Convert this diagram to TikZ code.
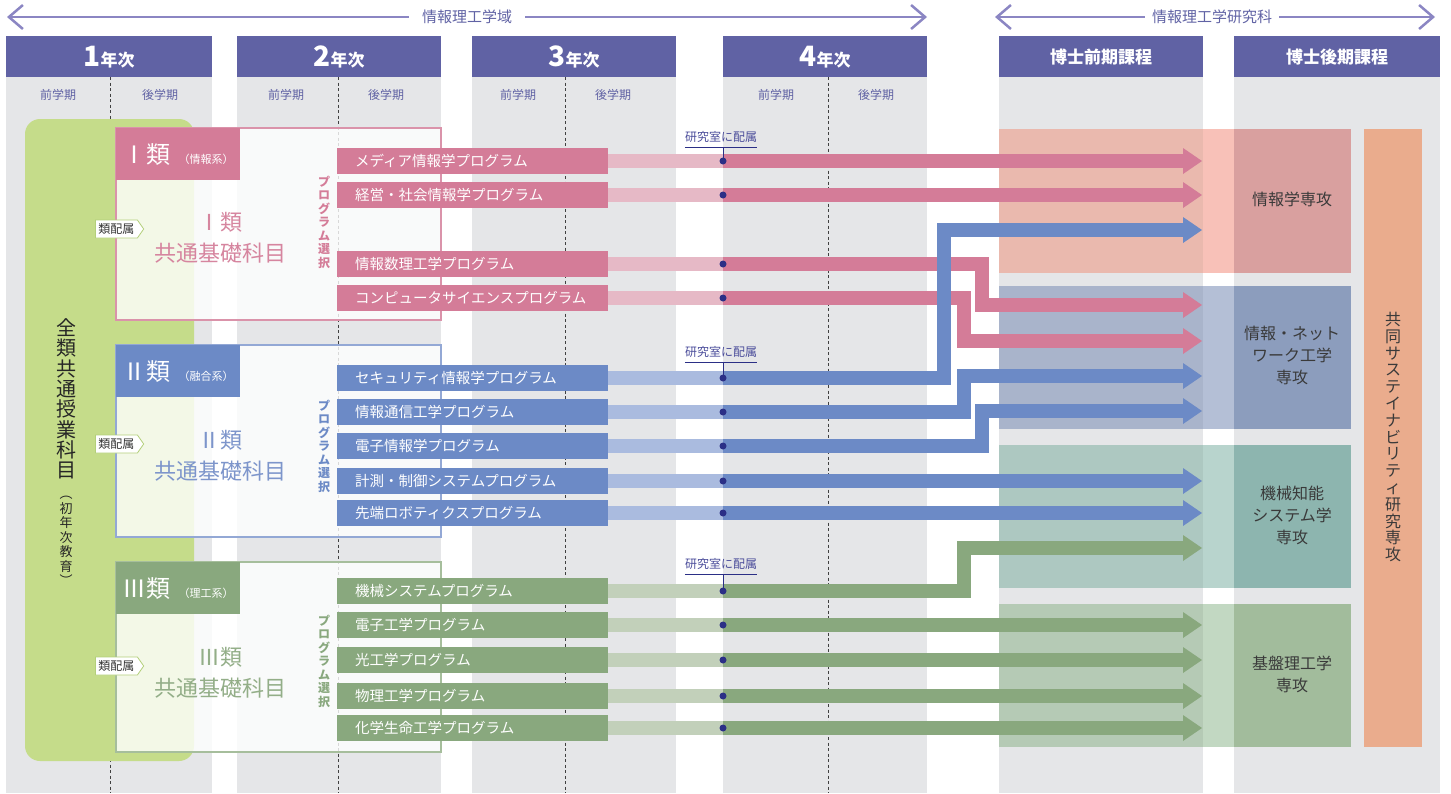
\documentclass[tikz,border=0pt]{standalone}
\usepackage{fontspec}
\setmainfont{Noto Sans CJK JP}
\usetikzlibrary{arrows.meta,shapes.symbols}
\definecolor{hdr}{HTML}{6062A4}
\definecolor{colgrey}{HTML}{E5E6E8}
\definecolor{rangeline}{HTML}{8B86C3}
\definecolor{allgreen}{HTML}{C5DC8A}
\definecolor{tagline}{HTML}{B3CF7A}
\definecolor{clsI}{HTML}{D47C98}
\definecolor{clsIlt}{HTML}{E6B9C6}
\definecolor{clsIbd}{HTML}{DA93AA}
\definecolor{clsItx}{HTML}{D6859F}
\definecolor{clsII}{HTML}{6C8AC6}
\definecolor{clsIIlt}{HTML}{AABBDF}
\definecolor{clsIIbd}{HTML}{93A8D5}
\definecolor{clsIItx}{HTML}{7D95CB}
\definecolor{clsIII}{HTML}{89A87E}
\definecolor{clsIIIlt}{HTML}{C2D0BA}
\definecolor{clsIIIbd}{HTML}{A6BE9C}
\definecolor{clsIIItx}{HTML}{93AE88}
\definecolor{labnavy}{HTML}{2B2F86}
\definecolor{labtext}{HTML}{4A4C9A}
\definecolor{majtext}{HTML}{3A3A3A}
\definecolor{sustain}{HTML}{EAAC8D}
\begin{document}
\begin{tikzpicture}[x=1pt,y=-1pt,
    prog/.style={anchor=west,text=white,font=\fontsize{14.5}{15}\selectfont,
      minimum height=26pt,inner xsep=18pt,inner ysep=0pt,text width=235pt,align=left},
    stub/.style={line width=14pt,draw=#1},
    lane/.style={line width=14pt,draw=#1,-{Triangle[length=19pt,width=26pt,line width=0pt]}},
    rng/.style={line width=2.5pt,draw=rangeline},
    rngtext/.style={text=hdr,font=\fontsize{15}{15}\selectfont,inner ysep=0pt},
    yeartext/.style={text=white,font=\bfseries\fontsize{17}{17}\selectfont},
    semtext/.style={text=hdr,font=\fontsize{12}{12}\selectfont},
    semdash/.style={black!75,line width=0.8pt,dash pattern=on 3pt off 2.5pt},
    clsbox/.style={line width=1.5pt,fill=white,fill opacity=0.8},
    clshead/.style={anchor=north west,minimum width=124pt,minimum height=52pt,
      text=white,font=\fontsize{11}{12}\selectfont},
    clsmid/.style={align=center,font=\fontsize{22}{31}\selectfont},
    tag/.style={signal,signal to=east,signal pointer angle=110,anchor=west,fill=white,
      draw=tagline,line width=0.8pt,inner xsep=3pt,inner ysep=2pt,minimum height=18pt,
      font=\fontsize{12}{12}\selectfont,text=black!80},
    tate/.style={align=center,inner sep=0pt},
    labtag/.style={anchor=south,text=labtext,font=\fontsize{12}{12}\selectfont,
      inner xsep=0pt,inner ysep=4pt},
    major/.style={align=center,text=majtext,font=\fontsize{16}{22}\selectfont}]
  \useasboundingbox (0,0) rectangle (1451,793);
  % columns
  \foreach \xa/\xb/\n in {6/212/1,237/441/2,472/676/3,723/927/4}{
    \fill[colgrey] (\xa,77) rectangle (\xb,793);
    \fill[hdr] (\xa,36) rectangle (\xb,77);
    \node[yeartext] (yh\n) at ({(\xa+\xb)/2},57) {{\fontsize{28}{28}\selectfont\n}年次};
  }
  \foreach \xa/\xb/\n/\t in {999/1203/5/博士前期課程,1234/1440/6/博士後期課程}{
    \fill[colgrey] (\xa,77) rectangle (\xb,793);
    \fill[hdr] (\xa,36) rectangle (\xb,77);
    \node[yeartext] (yh\n) at ({(\xa+\xb)/2},57) {\t};
  }
  \foreach \x/\t in {58/前学期,160/後学期,286/前学期,386/後学期,518/前学期,613/後学期,776/前学期,876/後学期}
    \node[semtext] (sm\x) at (\x,95) {\t};
  \foreach \x in {110,338,565,828}
    \draw[semdash] (\x,77) -- (\x,793);
  % ranges
  \coordinate (u0) at (7,17); \coordinate (u1) at (927,17);
  \coordinate (v0) at (995,17); \coordinate (v1) at (1435,17);
  \node[rngtext,inner xsep=13pt] (ut) at (467,17) {情報理工学域};
  \node[rngtext,inner xsep=7pt] (vt) at (1212,17) {情報理工学研究科};
  \draw[rng,{Straight Barb[length=14pt,width=24pt]}-] (u0) -- (ut);
  \draw[rng,-{Straight Barb[length=14pt,width=24pt]}] (ut) -- (u1);
  \draw[rng,{Straight Barb[length=14pt,width=24pt]}-] (v0) -- (vt);
  \draw[rng,-{Straight Barb[length=14pt,width=24pt]}] (vt) -- (v1);
  % majors
  \foreach \ya/\yb/\ca/\cb/\cc in {129/273/EAB9AE/F8C1B8/D9A09F,286/429/A9B4CB/B4BFD6/8C9DBD,
      445/588/ADC8C1/B8D4CD/8DB5AF,604/747/B5CAB5/C2D8C2/A2BC9C}{
    \definecolor{tmpa}{HTML}{\ca}\definecolor{tmpb}{HTML}{\cb}\definecolor{tmpc}{HTML}{\cc}
    \fill[tmpa] (999,\ya) rectangle (1203,\yb);
    \fill[tmpb] (1203,\ya) rectangle (1234,\yb);
    \fill[tmpc] (1234,\ya) rectangle (1351,\yb);
  }
  \fill[sustain] (1364,129) rectangle (1422,747);
  \node[major] (m1) at (1292,199) {情報学専攻};
  \node[major] (m2) at (1292,355) {情報・ネット\\ワーク工学\\専攻};
  \node[major] (m3) at (1292,515) {機械知能\\システム学\\専攻};
  \node[major] (m4) at (1292,674) {基盤理工学\\専攻};
  \node[tate,text=majtext,font=\fontsize{16}{16.8}\selectfont] (m5) at (1393,437)
    {共\\同\\サ\\ス\\テ\\イ\\ナ\\ビ\\リ\\テ\\ィ\\研\\究\\専\\攻};
  % common courses
  \fill[allgreen,rounded corners=15pt] (25,119) rectangle (194,761);
  \node[tate,text=black!85,font=\fontsize{20}{20.3}\selectfont] (zc) at (66,399)
    {全\\類\\共\\通\\授\\業\\科\\目};
  \node[tate,text=black!85,font=\fontsize{13}{14.5}\selectfont] (zs) at (66,541)
    {︵\\初\\年\\次\\教\\育\\︶};
  % classes
  \draw[clsbox,draw=clsIbd] (116,128) rectangle (441,320);
  \draw[clsbox,draw=clsIIbd] (116,345) rectangle (441,537);
  \draw[clsbox,draw=clsIIIbd] (116,562) rectangle (441,752);
  \node[clshead,fill=clsI] (h1) at (116,128) {{\fontsize{24}{24}\selectfont Ⅰ類}\hspace{8pt}（情報系）};
  \node[clshead,fill=clsII] (h2) at (116,345) {{\fontsize{24}{24}\selectfont Ⅱ類}\hspace{8pt}（融合系）};
  \node[clshead,fill=clsIII] (h3) at (116,562) {{\fontsize{24}{24}\selectfont Ⅲ類}\hspace{8pt}（理工系）};
  \node[clsmid,text=clsItx] (c1) at (220,238) {Ⅰ類\\共通基礎科目};
  \node[clsmid,text=clsIItx] (c2) at (220,456) {Ⅱ類\\共通基礎科目};
  \node[clsmid,text=clsIIItx] (c3) at (220,673) {Ⅲ類\\共通基礎科目};
  \node[tag] (g1) at (95,229) {類配属};
  \node[tag] (g2) at (95,444) {類配属};
  \node[tag] (g3) at (95,666) {類配属};
  \node[tate,text=clsI,font=\bfseries\fontsize{12}{13.5}\selectfont] (s1) at (324,222) {プ\\ロ\\グ\\ラ\\ム\\選\\択};
  \node[tate,text=clsII,font=\bfseries\fontsize{12}{13.5}\selectfont] (s2) at (324,446) {プ\\ロ\\グ\\ラ\\ム\\選\\択};
  \node[tate,text=clsIII,font=\bfseries\fontsize{12}{13.5}\selectfont] (s3) at (324,661) {プ\\ロ\\グ\\ラ\\ム\\選\\択};
  % programs
  \foreach \n/\y/\t in {1/161/メディア情報学プログラム,2/195/経営・社会情報学プログラム,
      3/264/情報数理工学プログラム,4/298/コンピュータサイエンスプログラム}{
    \node[prog,fill=clsI] (p\n) at (337,\y) {\t};
    \coordinate (d\n) at (723,\y);
    \draw[stub=clsIlt] (p\n.east) -- (d\n);
  }
  \foreach \n/\y/\t in {5/378/セキュリティ情報学プログラム,6/412/情報通信工学プログラム,
      7/446/電子情報学プログラム,8/481/計測・制御システムプログラム,9/513/先端ロボティクスプログラム}{
    \node[prog,fill=clsII] (p\n) at (337,\y) {\t};
    \coordinate (d\n) at (723,\y);
    \draw[stub=clsIIlt] (p\n.east) -- (d\n);
  }
  \foreach \n/\y/\t in {10/591/機械システムプログラム,11/625/電子工学プログラム,12/660/光工学プログラム,
      13/696/物理工学プログラム,14/728/化学生命工学プログラム}{
    \node[prog,fill=clsIII] (p\n) at (337,\y) {\t};
    \coordinate (d\n) at (723,\y);
    \draw[stub=clsIIIlt] (p\n.east) -- (d\n);
  }
  % lanes
  \foreach \n/\y in {1/161,2/195,3/230,4/305,5/341,6/376,7/411,8/481,9/513,10/548,11/625,12/660,13/696,14/728}
    \coordinate (a\n) at (1202,\y);
  \coordinate (k1) at (944,0); \coordinate (k2) at (964,0); \coordinate (k3) at (982,0);
  \draw[lane=clsI] (d1) -- (a1);
  \draw[lane=clsI] (d2) -- (a2);
  \draw[lane=clsI] (d3) -| (k3 |- a4) -- (a4);
  \draw[lane=clsI] (d4) -| (k2 |- a5) -- (a5);
  \draw[lane=clsII] (d5) -| (k1 |- a3) -- (a3);
  \draw[lane=clsII] (d6) -| (k2 |- a6) -- (a6);
  \draw[lane=clsII] (d7) -| (k3 |- a7) -- (a7);
  \draw[lane=clsII] (d8) -- (a8);
  \draw[lane=clsII] (d9) -- (a9);
  \draw[lane=clsIII] (d10) -| (k2 |- a10) -- (a10);
  \foreach \n in {11,...,14}
    \draw[lane=clsIII] (d\n) -- (a\n);
  % labs
  \foreach \n in {1,...,14}
    \fill[labnavy] (d\n) circle (3.5pt);
  \node[labtag] (l1) at (721,147) {研究室に配属};
  \node[labtag] (l2) at (721,362) {研究室に配属};
  \node[labtag] (l3) at (721,574) {研究室に配属};
  \draw[labnavy,line width=1pt] (l1.south west) -- (l1.south east) (l1.south -| d1) -- (d1);
  \draw[labnavy,line width=1pt] (l2.south west) -- (l2.south east) (l2.south -| d5) -- (d5);
  \draw[labnavy,line width=1pt] (l3.south west) -- (l3.south east) (l3.south -| d10) -- (d10);
\end{tikzpicture}
\end{document}
